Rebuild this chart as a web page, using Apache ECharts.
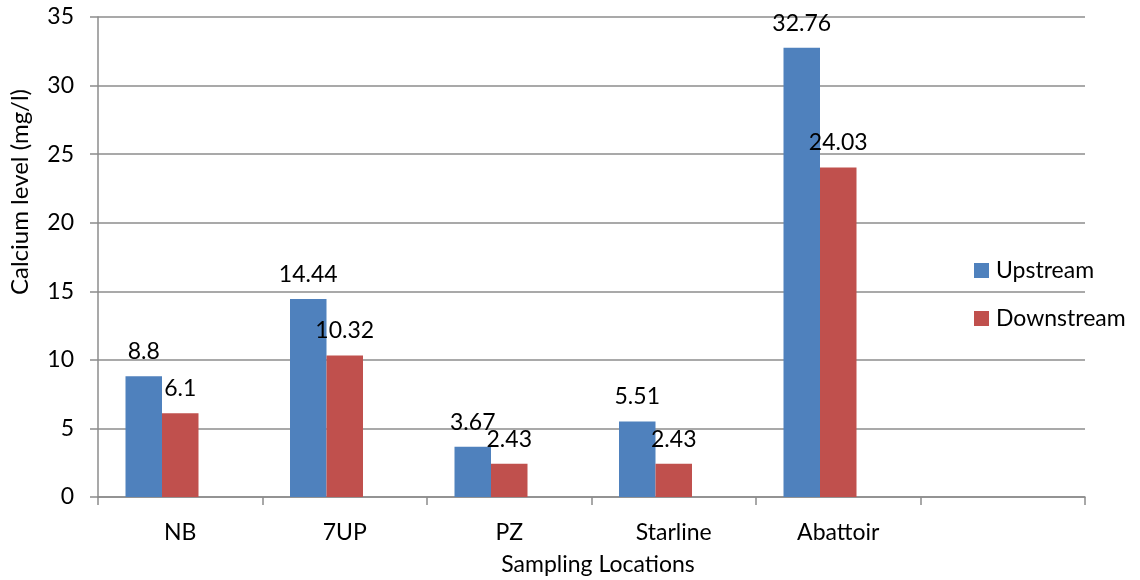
<!DOCTYPE html>
<html>
<head>
<meta charset="utf-8">
<title>Calcium level by sampling location</title>
<script src="https://cdn.jsdelivr.net/npm/echarts@6/dist/echarts.min.js"></script>
<style>
  html, body { margin: 0; padding: 0; background: #ffffff; overflow: hidden; }
  #chart { width: 1140px; height: 580px; }
</style>
</head>
<body>
<div id="chart"></div>
<script>
// Sampling locations (the last slot is an empty category)
const categories = ['NB', '7UP', 'PZ', 'Starline', 'Abattoir', ''];
// Calcium level (mg/l)
const upstream = [8.8, 14.44, 3.67, 5.51, 32.76, null];
const downstream = [6.1, 10.32, 2.43, 2.43, 24.03, null];
// Third, empty series slot in each category group
const emptySlot = [null, null, null, null, null, null];
const yTicks = [0, 5, 10, 15, 20, 25, 30, 35];

const FONT = 'Lato';
const GRID_COLOR = '#8c8c8c';

const chart = echarts.init(document.getElementById('chart'), null, { renderer: 'canvas' });

const labelStyle = {
  show: true,
  position: 'top',
  distance: 13,
  color: '#000000',
  fontFamily: FONT,
  fontSize: 23
};

chart.setOption({
  animation: false,
  backgroundColor: '#ffffff',
  textStyle: { fontFamily: FONT },
  grid: { left: 98, right: 55, top: 17, bottom: 83, containLabel: false, outerBoundsMode: 'none' },
  legend: {
    data: ['Upstream', 'Downstream'],
    orient: 'vertical',
    left: 969,
    top: 254,
    icon: 'rect',
    itemWidth: 15,
    itemHeight: 15,
    itemGap: 25,
    textStyle: { fontFamily: FONT, fontSize: 23, color: '#000000', padding: [0, 0, 0, 2] }
  },
  xAxis: {
    type: 'category',
    data: categories,
    name: 'Sampling Locations',
    nameLocation: 'middle',
    nameGap: 56,
    nameTextStyle: { fontFamily: FONT, fontSize: 23, color: '#000000', padding: [0, 0, 0, 13] },
    axisLine: { show: true, lineStyle: { color: GRID_COLOR, width: 1.5 } },
    axisTick: { show: true, alignWithLabel: false, length: 8, lineStyle: { color: GRID_COLOR, width: 1.5 } },
    axisLabel: { margin: 24, fontFamily: FONT, fontSize: 23, color: '#000000', interval: 0 },
    splitLine: { show: false }
  },
  yAxis: {
    type: 'value',
    min: yTicks[0],
    max: yTicks[yTicks.length - 1],
    interval: yTicks[1] - yTicks[0],
    axisLine: { show: true, lineStyle: { color: GRID_COLOR, width: 1.5 } },
    axisTick: { show: true, length: 8, lineStyle: { color: GRID_COLOR, width: 1.5 } },
    axisLabel: { margin: 24, fontFamily: FONT, fontSize: 23, color: '#000000' },
    splitLine: { show: true, lineStyle: { color: GRID_COLOR, width: 1.5 } }
  },
  graphic: [{
    type: 'text',
    x: 20,
    y: 192,
    rotation: Math.PI / 2,
    style: {
      text: 'Calcium level (mg/l)',
      fontFamily: FONT,
      fontSize: 24,
      fill: '#000000',
      textAlign: 'center',
      textVerticalAlign: 'middle'
    }
  }],
  series: [
    {
      name: 'Upstream',
      type: 'bar',
      data: upstream,
      barWidth: 36.5,
      barGap: 0,
      itemStyle: { color: '#4F81BD' },
      label: labelStyle
    },
    {
      name: 'Downstream',
      type: 'bar',
      data: downstream,
      barWidth: 36.5,
      barGap: 0,
      itemStyle: { color: '#C0504D' },
      label: labelStyle
    },
    {
      type: 'bar',
      data: emptySlot,
      barWidth: 36.5,
      barGap: 0,
      silent: true
    }
  ]
});
</script>
</body>
</html>
